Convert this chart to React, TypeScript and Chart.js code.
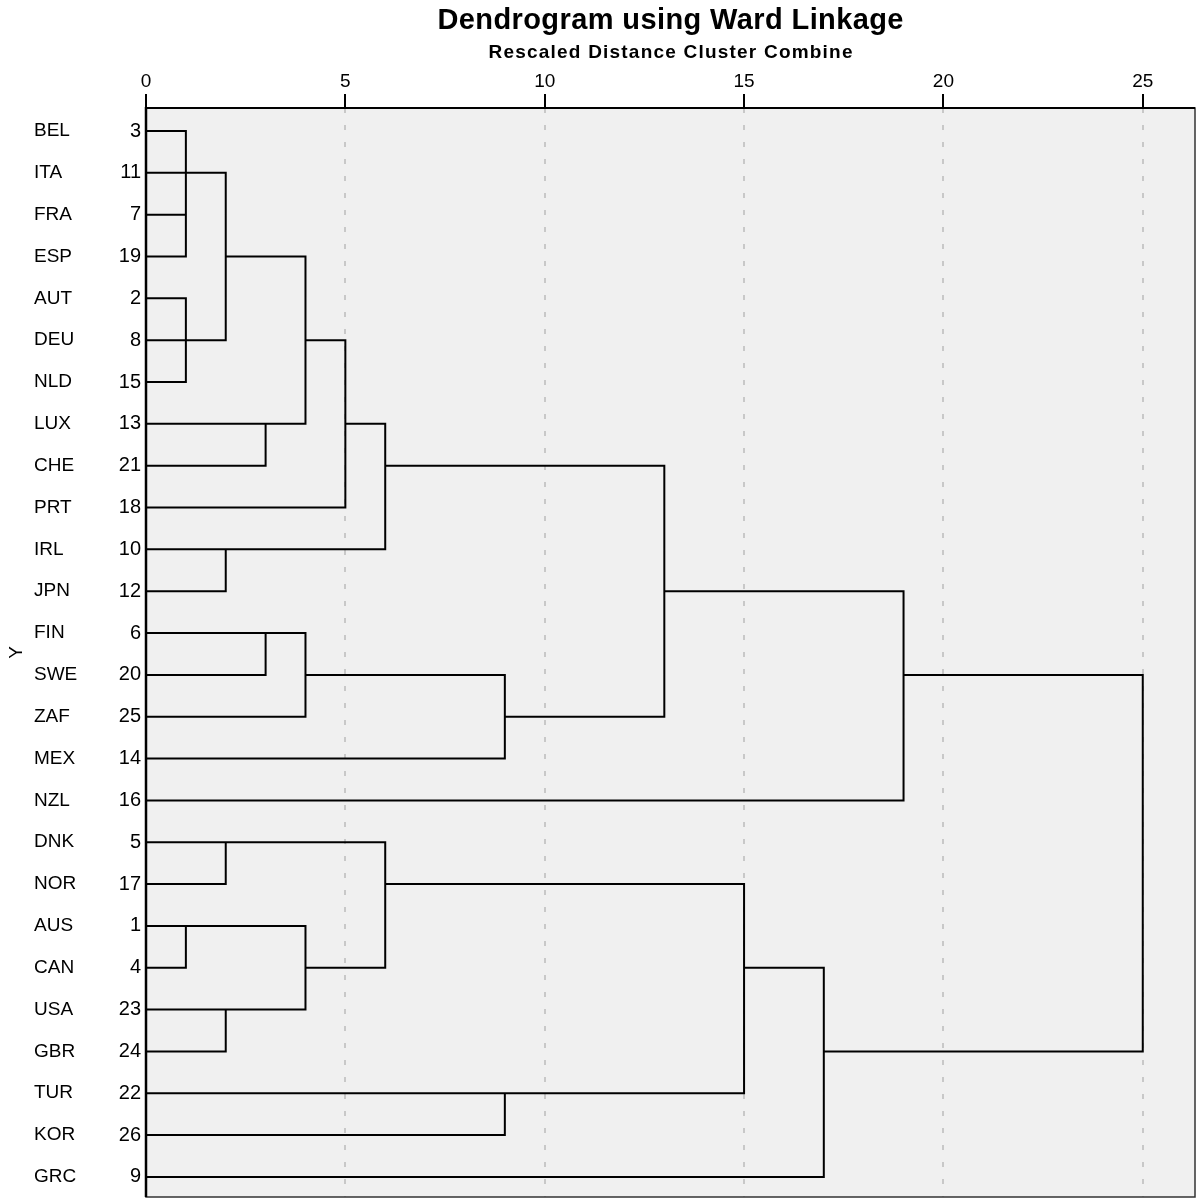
import React, { useEffect, useRef } from 'react';
import { Chart, registerables } from 'chart.js';

Chart.register(...registerables);

// ---- data ----
const leafNames = ['BEL', 'ITA', 'FRA', 'ESP', 'AUT', 'DEU', 'NLD', 'LUX', 'CHE', 'PRT', 'IRL', 'JPN', 'FIN', 'SWE', 'ZAF', 'MEX', 'NZL', 'DNK', 'NOR', 'AUS', 'CAN', 'USA', 'GBR', 'TUR', 'KOR', 'GRC'];
const leafCases = [3, 11, 7, 19, 2, 8, 15, 13, 21, 18, 10, 12, 6, 20, 25, 14, 16, 5, 17, 1, 4, 23, 24, 22, 26, 9];
// cluster merges: nodes 0..25 are leaves, merge k creates node 26+k
const mergeChildren = [
  [0, 1, 2, 3], [4, 5, 6], [26, 27], [7, 8], [28, 29], [30, 9], [10, 11], [31, 32],
  [12, 13], [34, 14], [35, 15], [33, 36], [37, 16],
  [17, 18], [19, 20], [21, 22], [40, 41], [39, 42], [23, 24], [43, 44], [45, 25], [38, 46],
];
const mergeDistances = [1, 1, 2, 3, 4, 5, 2, 6, 3, 4, 9, 13, 19, 2, 1, 2, 4, 6, 9, 15, 17, 25];
const xTicks = [0, 5, 10, 15, 20, 25];

const titleText = 'Dendrogram using Ward Linkage';
const subtitleText = 'Rescaled Distance Cluster Combine';
const axisTitle = 'Y';

const FONT = "'Liberation Sans', Arial, sans-serif";

function buildSegments() {
  const nodeRow: number[] = leafNames.map((_, i) => i);
  const nodeHeight: number[] = leafNames.map(() => 0);
  const pts: { x: number; y: number }[] = [];
  const GAP = { x: NaN, y: NaN };
  mergeChildren.forEach((ch, k) => {
    const h = mergeDistances[k];
    const sorted = [...ch].sort((a, b) => nodeRow[a] - nodeRow[b]);
    const first = sorted[0];
    const last = sorted[sorted.length - 1];
    const lo = nodeRow[first];
    const hi = nodeRow[last];
    pts.push(
      { x: nodeHeight[first], y: lo },
      { x: h, y: lo },
      { x: h, y: hi },
      { x: nodeHeight[last], y: hi },
      GAP,
    );
    sorted.slice(1, -1).forEach((c) => {
      pts.push({ x: nodeHeight[c], y: nodeRow[c] }, { x: h, y: nodeRow[c] }, GAP);
    });
    nodeRow.push(Math.floor((lo + hi) / 2));
    nodeHeight.push(h);
  });
  return pts;
}

function fitText(ctx: CanvasRenderingContext2D, text: string, cx: number, y: number, target: number) {
  (ctx as any).letterSpacing = '0px';
  const w0 = ctx.measureText(text).width;
  const n = text.length;
  const ls = Math.max(0, (target - w0) / (n - 1));
  (ctx as any).letterSpacing = `${ls}px`;
  ctx.textAlign = 'left';
  ctx.fillText(text, cx - (w0 + ls * (n - 1)) / 2, y);
  (ctx as any).letterSpacing = '0px';
}

const framePlugin = {
  id: 'framePlugin',
  beforeDraw(chart: any) {
    const { ctx, chartArea } = chart;
    const { left, top, right, bottom } = chartArea;
    ctx.save();
    ctx.fillStyle = '#f0f0f0';
    ctx.fillRect(left, top, right - left, bottom - top);
    ctx.restore();
  },
  afterDraw(chart: any) {
    const { ctx, chartArea } = chart;
    const { left, top, right, bottom } = chartArea;
    ctx.save();
    ctx.strokeStyle = '#333';
    ctx.lineWidth = 1.5;
    ctx.strokeRect(left, top, right - left, bottom - top);
    ctx.strokeStyle = '#000';
    ctx.lineWidth = 2.5;
    ctx.beginPath();
    ctx.moveTo(left, top - 1);
    ctx.lineTo(left, bottom);
    ctx.stroke();
    ctx.beginPath();
    ctx.lineWidth = 2;
    ctx.moveTo(left, top);
    ctx.lineTo(right, top);
    ctx.stroke();

    // titles, centred over the plot area
    const cx = (left + right) / 2;
    ctx.fillStyle = '#000';
    ctx.textBaseline = 'alphabetic';
    ctx.font = `bold 29px ${FONT}`;
    fitText(ctx, titleText, cx, 29, 466);
    ctx.font = `bold 19px ${FONT}`;
    fitText(ctx, subtitleText, cx, 58, 364);
    ctx.restore();
  },
};

const yRange = { min: -0.55, max: 25.48 };
const rowTicks = (scale: any) => {
  scale.ticks = leafNames.map((_, i) => ({ value: i }));
};
const fixWidth = (w: number) => (scale: any) => {
  scale.width = w;
  scale.paddingTop = 0;
  scale.paddingBottom = 0;
};

export default function App() {
  const ref = useRef<HTMLCanvasElement | null>(null);
  useEffect(() => {
    if (!ref.current) return;
    const chart = new Chart(ref.current, {
      type: 'scatter',
      data: {
        datasets: [
          {
            data: buildSegments(),
            showLine: true,
            spanGaps: false,
            borderColor: '#000',
            borderWidth: 2,
            borderCapStyle: 'square',
            borderJoinStyle: 'miter',
            pointRadius: 0,
            pointHoverRadius: 0,
            xAxisID: 'x',
            yAxisID: 'yNums',
          } as any,
        ],
      },
      options: {
        animation: false,
        responsive: false,
        devicePixelRatio: 1,
        events: [],
        layout: { padding: { top: 60, right: 2, bottom: 1, left: 0 } },
        plugins: { legend: { display: false }, tooltip: { enabled: false }, title: { display: false } },
        scales: {
          x: {
            type: 'linear',
            position: 'top',
            min: 0,
            max: 26.31,
            weight: 0,
            afterBuildTicks: (scale: any) => {
              scale.ticks = xTicks.map((v) => ({ value: v }));
            },
            afterFit: (scale: any) => {
              scale.height = 48;
              scale.paddingLeft = 0;
              scale.paddingRight = 0;
            },
            ticks: { color: '#000', font: { family: FONT, size: 19 }, padding: 1, maxRotation: 0 },
            grid: {
              color: '#c8c8c8',
              lineWidth: 2,
              tickLength: 14,
              tickColor: '#000',
              tickWidth: 2,
              drawOnChartArea: true,
            },
            border: { display: false, dash: [5, 12] },
          },
          yTitle: {
            type: 'linear',
            position: 'left',
            reverse: true,
            ...yRange,
            weight: 3,
            afterBuildTicks: rowTicks,
            afterFit: fixWidth(34),
            ticks: { display: false },
            grid: { display: false, drawTicks: false },
            border: { display: false },
            title: { display: true, text: axisTitle, color: '#000', font: { family: FONT, size: 19 }, padding: { top: 5, bottom: 0 } },
          },
          yNames: {
            type: 'linear',
            position: 'left',
            reverse: true,
            ...yRange,
            weight: 2,
            afterBuildTicks: rowTicks,
            afterFit: fixWidth(52),
            ticks: {
              color: '#000',
              font: { family: FONT, size: 19 },
              crossAlign: 'far',
              autoSkip: false,
              callback: (v: any) => leafNames[Math.round(Number(v))],
            },
            grid: { display: false, drawTicks: false },
            border: { display: false },
          },
          yNums: {
            type: 'linear',
            position: 'left',
            reverse: true,
            ...yRange,
            weight: 1,
            afterBuildTicks: rowTicks,
            afterFit: fixWidth(60),
            ticks: {
              color: '#000',
              font: { family: FONT, size: 20 },
              crossAlign: 'near',
              padding: 5,
              autoSkip: false,
              callback: (v: any) => String(leafCases[Math.round(Number(v))]),
            },
            grid: { display: false, drawTicks: false },
            border: { display: false },
          },
        },
      } as any,
      plugins: [framePlugin],
    });
    return () => chart.destroy();
  }, []);

  return (
    <div style={{ position: 'fixed', left: 0, top: 0, width: 1197, height: 1198, background: '#fff' }}>
      <canvas ref={ref} width={1197} height={1198} style={{ display: 'block', width: 1197, height: 1198 }} />
    </div>
  );
}
